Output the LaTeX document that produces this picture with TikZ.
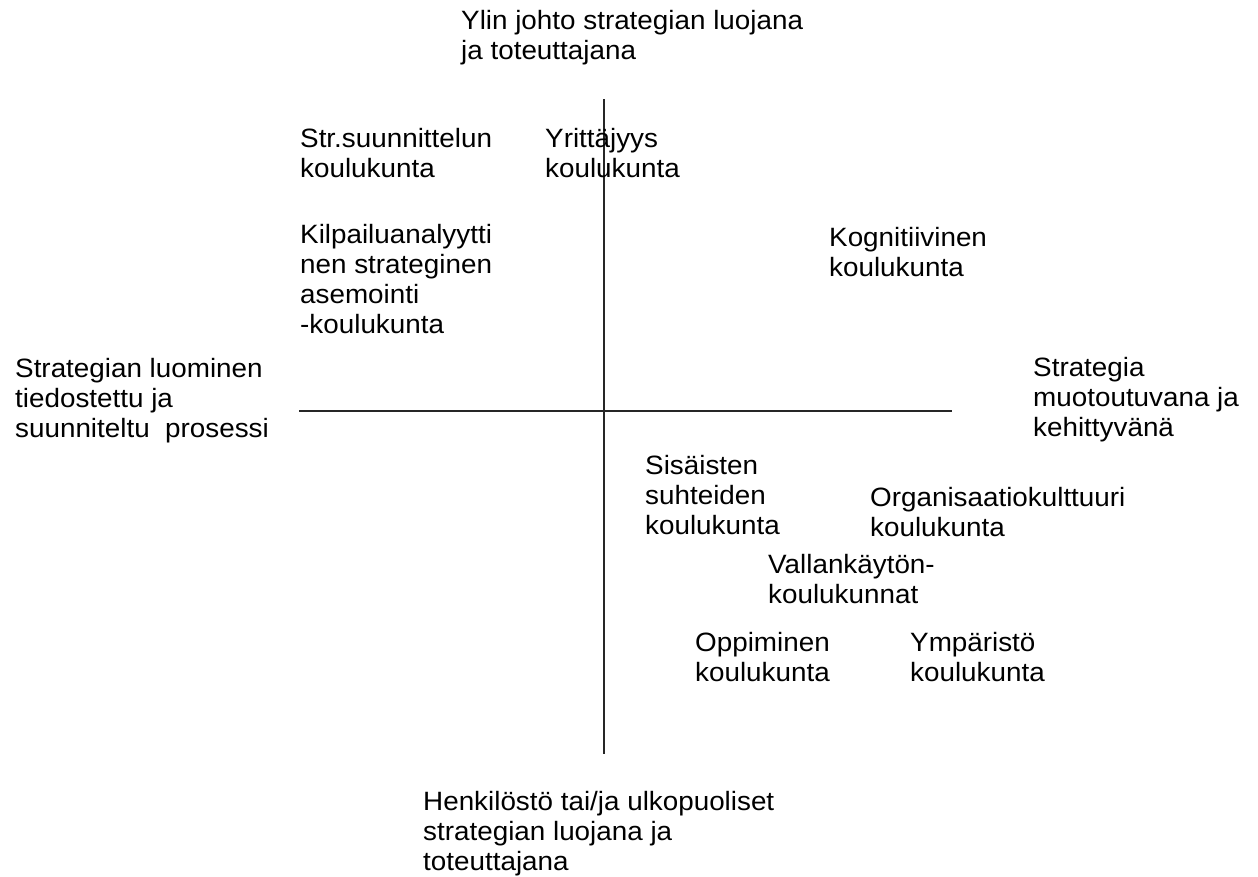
\documentclass[tikz,border=0pt]{standalone}
\usepackage{fontspec}
\setmainfont{Liberation Sans}[FakeStretch=1.05]
\begin{document}
\begin{tikzpicture}[x=1pt,y=-1pt,
  lbl/.style={anchor=base west,inner sep=0pt,align=left,font=\fontsize{26.5}{30}\selectfont},
  axis/.style={line width=1.6pt,draw=black!85}]
\useasboundingbox[fill=white] (0,0) rectangle (1258,876);
\coordinate (vtop) at (604,99);
\coordinate (vbot) at (604,754);
\coordinate (hleft) at (299,411);
\coordinate (hright) at (952,411);
\draw[axis] (vtop) -- (vbot);
\draw[axis] (hleft) -- (hright);
% anchors are at the baseline of the LAST line of each node
\node[lbl] (top) at (461,59) {Ylin johto strategian luojana\\ja toteuttajana};
\node[lbl] (str) at (300,177) {Str.suunnittelun\\koulukunta};
\node[lbl] (yri) at (545,177) {Yrittäjyys\\koulukunta};
\node[lbl] (kil) at (300,333) {Kilpailuanalyytti\\nen strateginen\\asemointi\\-koulukunta};
\node[lbl] (kog) at (829,276) {Kognitiivinen\\koulukunta};
\node[lbl] (left) at (15,437) {Strategian luominen\\tiedostettu ja\\suunniteltu\ \ prosessi};
\node[lbl] (right) at (1033,436) {Strategia\\muotoutuvana ja\\kehittyvänä};
\node[lbl] (sis) at (645,534) {Sisäisten\\suhteiden\\koulukunta};
\node[lbl] (org) at (870,536) {Organisaatiokulttuuri\\koulukunta};
\node[lbl] (val) at (768,603) {Vallankäytön-\\koulukunnat};
\node[lbl] (opp) at (695,681) {Oppiminen\\koulukunta};
\node[lbl] (ymp) at (910,681) {Ympäristö\\koulukunta};
\node[lbl] (hen) at (423,870) {Henkilöstö tai/ja ulkopuoliset\\strategian luojana ja\\toteuttajana};
\end{tikzpicture}
\end{document}
